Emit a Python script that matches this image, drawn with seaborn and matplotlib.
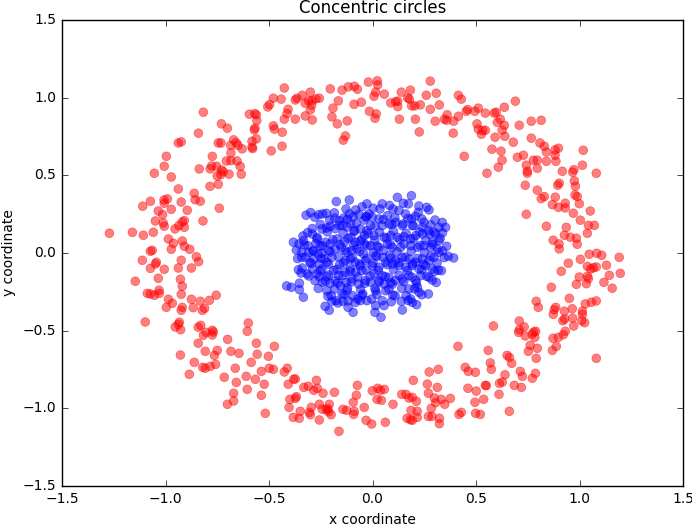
import pandas as pd
import matplotlib
matplotlib.use("Agg")
import matplotlib.pyplot as plt
import seaborn as sns

# outer ring (red)
outer_x = [
    # top left
    -0.817, -0.730, -0.701, -0.841, -0.938, -0.924, -0.745, -0.732, -0.685, -0.684,
    -0.996, -0.774, -1.006, -0.706, -0.684, -0.837, -0.784, -0.777, -0.753, -0.729,
    -0.721, -0.750, -0.733, -0.693, -1.054, -0.972, -0.785, -0.745, -0.938, -0.861,
    # top, left of centre
    -0.426, -0.479, -0.441, -0.506, -0.497, -0.373, -0.365, -0.339, -0.300, -0.325,
    -0.308, -0.292, -0.273, -0.257, -0.294, -0.300, -0.408, -0.413, -0.373, -0.426,
    -0.325, -0.291, -0.595, -0.569, -0.561, -0.559, -0.204, -0.147, -0.117, -0.088,
    -0.073, -0.165, -0.089, -0.054, -0.191, -0.196, -0.170, -0.122, -0.131, -0.141,
    -0.479, -0.474, -0.436, -0.568, -0.571, -0.561, -0.582, -0.582, -0.579, -0.437,
    -0.489, -0.671, -0.659, -0.650, -0.630, -0.655, -0.639, -0.634,
    # top, right of centre
    0.023, 0.025, -0.020, 0.015, 0.007, 0.057, 0.279, 0.139, 0.183, 0.170,
    0.178, 0.088, 0.112, 0.122, 0.122, 0.189, 0.204, 0.231, 0.260, 0.308,
    0.279, 0.323, -0.015, 0.018, 0.012, 0.130, 0.207, 0.303, 0.226, 0.415,
    0.429, 0.347, 0.361, 0.358, 0.392, 0.415, 0.453, 0.460, 0.494, 0.511,
    0.390, 0.545, 0.588, 0.598, 0.637, 0.505, 0.511, 0.526, 0.532, 0.545,
    0.603, 0.617, 0.637, 0.626, 0.639, 0.592, 0.577, 0.621, 0.626, 0.608,
    0.443, 0.553,
    # top right
    0.690, 0.709, 0.767, 0.815, 0.680, 0.767, 0.809, 0.830, 0.840, 0.882,
    0.898, 0.882, 1.018, 0.700, 0.729, 0.777, 0.796, 0.840, 0.886, 0.743,
    0.796, 0.748, 0.748, 0.917, 0.967, 0.973, 1.014, 1.081, 0.975, 0.980,
    0.895, 0.902, 0.738, 0.796,
    # right
    0.815, 0.830, 0.883, 0.931, 0.931, 0.978, 0.989, 0.999, 0.869, 0.898,
    0.743, 0.970, 1.052, 1.004, 0.840, 0.936, 1.043, 1.072, 1.038, 0.927,
    0.956, 0.985, 0.873, 0.901, 0.902, 0.989, 1.047, 1.083, 1.107, 1.192,
    1.004, 0.946, 1.038, 1.054, 1.067, 1.081, 1.130, 0.912, 0.999, 1.043,
    1.038, 1.144, 1.197, 0.985, 1.033, 1.118, 1.158, 0.864, 0.951, 0.791,
    0.801, 0.885, 0.878, 0.873, 0.927, 0.965, 1.014, 1.014, 1.028, 1.057,
    1.081,
    # left
    -0.857, -0.832, -1.110, -1.073, -1.007, -0.991, -1.006, -0.924, -0.740, -1.035,
    -1.014, -0.972, -0.895, -0.819, -1.049, -1.011, -1.006, -0.954, -0.935, -0.919,
    -0.909, -0.909, -1.271, -1.160, -1.107, -1.059, -0.986, -0.962, -0.919, -0.909,
    -0.883, -0.972, -1.073, -1.064, -0.851, -0.840, -1.112, -0.924, -1.073, -1.049,
    -1.044, -1.006, -0.938, -0.875, -1.035, -1.146, -0.928, -0.919, -1.088, -1.073,
    -1.054, -1.031, -1.030, -0.924, -0.755, -0.986, -0.967, -0.875, -0.832, -0.788,
    -0.996, -0.919, -0.924, -0.866, -0.822, -0.811,
    # bottom left
    -1.098, -0.953, -0.938, -0.933, -0.927, -0.842, -0.830, -0.817, -0.804, -0.774,
    -0.774, -0.769, -0.700, -0.842, -0.808, -0.750, -0.764, -0.684, -0.928, -0.861,
    -0.820, -0.808, -0.784, -0.758, -0.885, -0.716, -0.701,
    # bottom, left of centre
    -0.600, -0.605, -0.561, -0.474, -0.645, -0.557, -0.503, -0.663, -0.586, -0.537,
    -0.499, -0.479, -0.426, -0.412, -0.610, -0.566, -0.658, -0.523, -0.605, -0.671,
    -0.671, -0.537, -0.518, -0.381, -0.373, -0.407, -0.332, -0.310, -0.284, -0.271,
    -0.267, -0.239, -0.184, -0.399, -0.373, -0.368, -0.403, -0.349, -0.383, -0.354,
    -0.296, -0.305, -0.300, -0.257, -0.243, -0.223, -0.216, -0.212, -0.209, -0.200,
    -0.257, -0.162, -0.143, -0.125, -0.093, -0.088, -0.091, -0.078, -0.073, -0.040,
    -0.031,
    # bottom, right of centre
    0.584, 0.413, 0.559, 0.569, 0.574, 0.448, 0.463, 0.497, 0.274, 0.318,
    0.197, 0.265, 0.313, 0.461, 0.501, 0.545, 0.550, 0.613, 0.627, 0.611,
    0.640, 0.537, 0.495, -0.001, 0.025, 0.038, 0.057, 0.022, 0.043, 0.099,
    0.141, 0.162, 0.176, 0.192, 0.212, 0.270, 0.299, 0.305, 0.332, 0.349,
    0.376, 0.284, 0.186, 0.216, 0.216, 0.167, 0.183, 0.192, 0.270, 0.287,
    0.323, 0.323, 0.418, 0.429, 0.498, 0.521, -0.004, 0.062,
    # bottom right
    0.709, 0.733, 0.706, 0.709, 0.738, 0.771, 0.779, 0.788, 0.784, 0.762,
    0.753, 0.796, 0.791, 0.872, 0.898, 0.922, 0.931, 0.888, 0.869, 0.972,
    0.919, 0.928, 0.967, 1.011, 1.025, 1.081, 0.650, 0.661, 0.672, 0.714,
    0.724, 0.787, 0.772, 0.685, 0.719, 0.661,
]
outer_y = [
    # top left
    0.906, 0.831, 0.803, 0.771, 0.708, 0.715, 0.708, 0.708, 0.693, 0.644,
    0.622, 0.622, 0.558, 0.592, 0.594, 0.541, 0.541, 0.560, 0.558, 0.534,
    0.523, 0.496, 0.504, 0.507, 0.513, 0.489, 0.429, 0.442, 0.412, 0.384,
    # top, left of centre
    1.062, 0.996, 0.990, 0.940, 0.955, 0.985, 0.996, 1.015, 1.035, 0.964,
    0.979, 0.981, 0.992, 0.996, 0.951, 0.921, 0.925, 0.897, 0.861, 0.861,
    0.882, 0.856, 0.893, 0.897, 0.889, 0.852, 1.056, 1.048, 1.069, 1.073,
    1.054, 0.979, 0.957, 0.970, 0.932, 0.876, 0.831, 0.850, 0.753, 0.726,
    0.818, 0.797, 0.777, 0.803, 0.792, 0.734, 0.719, 0.681, 0.672, 0.687,
    0.657, 0.728, 0.710, 0.693, 0.670, 0.592, 0.558, 0.507,
    # top, right of centre
    1.108, 1.082, 1.100, 1.035, 1.009, 1.022, 1.106, 1.035, 1.048, 0.998,
    0.990, 0.966, 0.974, 0.977, 0.942, 0.947, 0.947, 0.953, 1.015, 1.028,
    0.925, 0.953, 0.912, 0.895, 0.867, 0.861, 0.861, 0.848, 0.779, 1.015,
    0.990, 0.861, 0.889, 0.854, 0.848, 0.880, 0.912, 0.923, 0.912, 0.932,
    0.771, 0.900, 0.900, 0.906, 0.938, 0.831, 0.797, 0.764, 0.788, 0.790,
    0.841, 0.861, 0.822, 0.790, 0.751, 0.745, 0.668, 0.655, 0.597, 0.552,
    0.622, 0.513,
    # top right
    0.977, 0.822, 0.848, 0.854, 0.713, 0.739, 0.708, 0.687, 0.650, 0.663,
    0.674, 0.629, 0.661, 0.616, 0.629, 0.597, 0.597, 0.590, 0.590, 0.565,
    0.545, 0.526, 0.513, 0.526, 0.520, 0.536, 0.565, 0.513, 0.464, 0.429,
    0.436, 0.449, 0.436, 0.404,
    # right
    0.350, 0.363, 0.359, 0.320, 0.290, 0.373, 0.363, 0.317, 0.311, 0.294,
    0.249, 0.256, 0.270, 0.211, 0.172, 0.165, 0.178, 0.178, 0.127, 0.114,
    0.101, 0.095, 0.082, 0.058, 0.026, 0.056, -0.008, -0.002, -0.015, -0.028,
    -0.041, -0.066, -0.086, -0.103, -0.095, -0.090, -0.079, -0.118, -0.155, -0.165,
    -0.150, -0.144, -0.131, -0.202, -0.198, -0.189, -0.227, -0.221, -0.292, -0.311,
    -0.350, -0.350, -0.365, -0.395, -0.375, -0.359, -0.375, -0.395, -0.328, -0.317,
    -0.309,
    # left
    0.343, 0.333, 0.301, 0.333, 0.341, 0.348, 0.320, 0.328, 0.288, 0.270,
    0.247, 0.281, 0.275, 0.206, 0.206, 0.193, 0.172, 0.155, 0.176, 0.200,
    0.208, 0.165, 0.127, 0.133, 0.114, 0.133, 0.090, 0.062, 0.077, 0.043,
    0.024, 0.024, 0.011, 0.017, -0.024, -0.056, -0.047, -0.047, -0.099, -0.071,
    -0.060, -0.105, -0.097, -0.097, -0.163, -0.182, -0.169, -0.214, -0.260, -0.264,
    -0.272, -0.240, -0.260, -0.266, -0.272, -0.298, -0.324, -0.298, -0.311, -0.305,
    -0.350, -0.350, -0.369, -0.352, -0.369, -0.356,
    # bottom left
    -0.444, -0.476, -0.459, -0.446, -0.494, -0.478, -0.466, -0.530, -0.511, -0.498,
    -0.528, -0.509, -0.556, -0.581, -0.633, -0.627, -0.659, -0.633, -0.657, -0.704,
    -0.736, -0.742, -0.730, -0.717, -0.781, -0.800, -0.974,
    # bottom, left of centre
    -0.451, -0.504, -0.581, -0.601, -0.646, -0.652, -0.665, -0.742, -0.704, -0.762,
    -0.742, -0.749, -0.766, -0.742, -0.794, -0.813, -0.833, -0.845, -0.878, -0.903,
    -0.953, -0.916, -1.032, -0.813, -0.811, -0.845, -0.865, -0.858, -0.884, -0.820,
    -0.871, -0.903, -0.897, -0.942, -0.936, -0.925, -0.994, -1.019, -1.058, -1.064,
    -0.994, -1.026, -1.041, -0.974, -1.005, -1.009, -1.003, -1.022, -0.974, -1.041,
    -1.075, -1.148, -1.006, -1.013, -0.961, -1.019, -1.039, -0.916, -0.852, -0.994,
    -1.077,
    # bottom, right of centre
    -0.470, -0.601, -0.627, -0.708, -0.749, -0.736, -0.762, -0.768, -0.766, -0.749,
    -0.820, -0.844, -0.865, -0.871, -0.889, -0.852, -0.854, -0.839, -0.831, -0.910,
    -0.784, -0.942, -0.961, -0.887, -0.871, -0.884, -0.878, -0.942, -0.948, -0.974,
    -0.910, -0.910, -0.934, -0.929, -0.955, -0.903, -0.934, -0.964, -0.942, -0.974,
    -0.936, -1.000, -1.013, -1.019, -1.058, -1.064, -1.073, -1.077, -1.052, -1.052,
    -1.064, -1.099, -1.039, -1.026, -1.032, -1.039, -1.101, -1.090,
    # bottom right
    -0.438, -0.476, -0.511, -0.494, -0.534, -0.522, -0.509, -0.504, -0.543, -0.594,
    -0.633, -0.614, -0.678, -0.549, -0.543, -0.526, -0.504, -0.601, -0.627, -0.470,
    -0.436, -0.425, -0.419, -0.436, -0.449, -0.678, -0.659, -0.672, -0.710, -0.762,
    -0.794, -0.775, -0.807, -0.852, -0.865, -1.019,
]

# inner blob (blue), the points that can be told apart
inner_x = [
    # left half
    -0.175, -0.112, -0.027, -0.321, -0.299, -0.279, -0.260, -0.241, -0.223, -0.207,
    -0.184, -0.160, -0.139, -0.128, -0.112, -0.093, -0.081, -0.067, -0.041, -0.030,
    -0.291, -0.291, -0.267, -0.244, -0.221, -0.204, -0.180, -0.147, -0.123, -0.105,
    -0.086, -0.059, -0.039, -0.027, -0.382, -0.355, -0.336, -0.333, -0.312, -0.273,
    -0.252, -0.228, -0.204, -0.171, -0.134, -0.104, -0.083, -0.060, -0.027, -0.368,
    -0.342, -0.307, -0.286, -0.263, -0.244, -0.212, -0.180, -0.151, -0.123, -0.102,
    -0.075, -0.043, -0.362, -0.324, -0.302, -0.283, -0.257, -0.234, -0.220, -0.196,
    -0.159, -0.131, -0.107, -0.083, -0.059, -0.035, -0.339, -0.345, -0.315, -0.289,
    -0.268, -0.244, -0.212, -0.188, -0.163, -0.131, -0.107, -0.081, -0.051, -0.415,
    -0.392, -0.353, -0.353, -0.334, -0.278, -0.257, -0.228, -0.204, -0.180, -0.155,
    -0.128, -0.099, -0.067, -0.035, -0.220, -0.199, -0.176, -0.147, -0.123, -0.096,
    -0.072, -0.047, -0.027, -0.215, -0.196, -0.167, -0.143, -0.118, -0.094, -0.229,
    -0.209, -0.083, -0.059,
    # right half
    0.120, 0.149, 0.173, 0.188, 0.047, 0.036, -0.017, -0.001, 0.031, 0.072,
    0.099, 0.128, 0.160, 0.189, 0.221, 0.262, 0.273, 0.238, 0.249, -0.009,
    0.047, 0.080, 0.112, 0.144, 0.192, 0.241, 0.270, 0.297, 0.321, 0.337,
    0.353, 0.007, 0.056, 0.088, 0.120, 0.152, 0.184, 0.209, 0.241, 0.305,
    0.321, 0.289, -0.009, 0.031, 0.072, 0.096, 0.136, 0.184, 0.217, 0.249,
    0.281, 0.313, 0.321, 0.015, 0.051, 0.083, 0.112, 0.144, 0.176, 0.209,
    0.241, 0.273, 0.297, 0.366, 0.392, -0.001, 0.031, 0.064, 0.096, 0.128,
    0.160, 0.192, 0.225, 0.257, 0.289, 0.300, 0.333, 0.007, 0.047, 0.080,
    0.112, 0.144, 0.176, 0.209, 0.233, 0.273, 0.289, 0.031, -0.009, 0.056,
    0.096, 0.176, 0.217, 0.225, 0.270, 0.015, 0.064, -0.004, 0.047, 0.056,
    0.015, 0.109, 0.139, 0.184, 0.192, 0.213, 0.144, 0.012, 0.041,
]
inner_y = [
    # left half
    0.331, 0.341, 0.316, 0.243, 0.260, 0.230, 0.247, 0.251, 0.255, 0.212,
    0.258, 0.208, 0.225, 0.283, 0.251, 0.234, 0.277, 0.247, 0.212, 0.236,
    0.157, 0.122, 0.101, 0.155, 0.161, 0.172, 0.157, 0.176, 0.167, 0.187,
    0.144, 0.155, 0.112, 0.144, 0.069, 0.058, 0.109, 0.079, 0.047, 0.062,
    0.047, 0.069, 0.058, 0.090, 0.073, 0.101, 0.069, 0.075, 0.047, 0.019,
    0.004, 0.004, 0.015, -0.006, -0.002, 0.015, 0.026, 0.036, 0.004, 0.015,
    0.026, -0.006, -0.036, -0.028, -0.060, -0.039, -0.071, -0.039, -0.060, -0.028,
    -0.075, -0.049, -0.039, -0.060, -0.082, -0.049, -0.097, -0.129, -0.135, -0.103,
    -0.135, -0.103, -0.142, -0.114, -0.146, -0.124, -0.103, -0.124, -0.114, -0.212,
    -0.221, -0.195, -0.236, -0.285, -0.178, -0.152, -0.182, -0.195, -0.178, -0.210,
    -0.189, -0.167, -0.200, -0.178, -0.243, -0.275, -0.307, -0.264, -0.243, -0.275,
    -0.296, -0.264, -0.307, -0.279, -0.311, -0.322, -0.311, -0.350, -0.382, -0.343,
    -0.369, -0.318, -0.307,
    # right half
    0.358, 0.320, 0.316, 0.369, 0.316, 0.283, 0.251, 0.230, 0.219, 0.240,
    0.283, 0.273, 0.251, 0.219, 0.262, 0.294, 0.277, 0.219, 0.197, 0.176,
    0.176, 0.187, 0.197, 0.176, 0.176, 0.165, 0.144, 0.133, 0.165, 0.197,
    0.165, 0.112, 0.101, 0.112, 0.101, 0.105, 0.090, 0.112, 0.122, 0.122,
    0.079, 0.069, 0.047, 0.036, 0.058, 0.036, 0.036, 0.047, 0.036, 0.047,
    0.036, 0.026, 0.004, -0.017, -0.028, -0.017, -0.049, -0.028, -0.039, -0.060,
    -0.039, -0.049, -0.028, -0.021, -0.032, -0.082, -0.092, -0.060, -0.071, -0.082,
    -0.092, -0.082, -0.103, -0.082, -0.103, -0.118, -0.114, -0.135, -0.146, -0.157,
    -0.178, -0.167, -0.146, -0.178, -0.146, -0.157, -0.174, -0.178, -0.189, -0.200,
    -0.200, -0.232, -0.221, -0.253, -0.264, -0.243, -0.243, -0.296, -0.307, -0.339,
    -0.339, -0.275, -0.311, -0.296, -0.318, -0.333, -0.367, -0.382, -0.414,
]

# inner blob, estimated extra points in the crowded core (one row per line)
core_x = [
    -0.050, 0.003, 0.082, 0.224,
    -0.183, -0.121, -0.031, 0.052, 0.108, 0.171, 0.207, 0.302,
    -0.252, -0.161, -0.078, 0.012, 0.093, 0.148, 0.198, 0.281,
    -0.313, -0.218, -0.142, -0.089, -0.021, 0.034, 0.101, 0.162, 0.228, 0.276, 0.338,
    -0.268, -0.192, -0.118, -0.052, 0.011, 0.068, 0.131, 0.197, 0.258, 0.327,
    -0.329, -0.241, -0.158, -0.091, -0.038, 0.022, 0.087, 0.152, 0.229, 0.292, 0.358,
    -0.287, -0.203, -0.131, -0.062, 0.004, 0.052, 0.118, 0.187, 0.251, 0.338,
    -0.342, -0.248, -0.163, -0.098, -0.027, 0.021, 0.089, 0.158, 0.218, 0.281, 0.347,
    -0.297, -0.212, -0.139, -0.063, 0.002, 0.071, 0.128, 0.193, 0.248, 0.312,
    -0.358, -0.251, -0.172, -0.108, -0.031, 0.028, 0.101, 0.168, 0.238, 0.318,
    -0.308, -0.221, -0.143, -0.072, -0.012, 0.061, 0.129, 0.191, 0.262,
    -0.241, -0.168, -0.102, -0.038, 0.031, 0.088, 0.151, 0.212, 0.308,
    -0.262, -0.183, -0.121, -0.058, 0.012, 0.079, 0.141, 0.203,
    -0.138, -0.051, 0.021, 0.098, 0.162, 0.238,
    -0.118, 0.091, 0.172,
]
core_y = [
    0.297, 0.288, 0.306, 0.302,
    0.224, 0.218, 0.231, 0.215, 0.226, 0.221, 0.236, 0.212,
    0.184, 0.178, 0.190, 0.172, 0.183, 0.187, 0.176, 0.181,
    0.131, 0.136, 0.128, 0.139, 0.125, 0.133, 0.141, 0.127, 0.135, 0.122, 0.130,
    0.091, 0.085, 0.094, 0.088, 0.082, 0.096, 0.087, 0.092, 0.083, 0.094,
    0.052, 0.046, 0.055, 0.049, 0.057, 0.044, 0.053, 0.058, 0.048, 0.055, 0.043,
    0.012, 0.006, 0.015, 0.009, 0.003, 0.016, 0.008, 0.011, 0.002, 0.014,
    -0.028, -0.034, -0.025, -0.031, -0.036, -0.024, -0.033, -0.027, -0.035, -0.022, -0.030,
    -0.068, -0.073, -0.064, -0.071, -0.066, -0.075, -0.062, -0.069, -0.074, -0.065,
    -0.108, -0.113, -0.105, -0.116, -0.109, -0.112, -0.104, -0.114, -0.107, -0.111,
    -0.148, -0.153, -0.146, -0.155, -0.149, -0.152, -0.144, -0.156, -0.150,
    -0.189, -0.193, -0.186, -0.195, -0.188, -0.192, -0.185, -0.196, -0.190,
    -0.228, -0.232, -0.226, -0.235, -0.229, -0.233, -0.227, -0.231,
    -0.268, -0.274, -0.266, -0.271, -0.275, -0.269,
    -0.309, -0.314, -0.306,
]

ticks = [-1.5, -1.0, -0.5, 0.0, 0.5, 1.0, 1.5]

assert len(outer_x) == len(outer_y)
assert len(inner_x) == len(inner_y)
assert len(core_x) == len(core_y)

blue_x = inner_x + core_x
blue_y = inner_y + core_y

df = pd.DataFrame({
    'x': outer_x + blue_x,
    'y': outer_y + blue_y,
    'ring': ['outer'] * len(outer_x) + ['inner'] * len(blue_x),
})

plt.style.use('classic')
plt.rcParams['font.family'] = ['DejaVu Sans']
fig, ax = plt.subplots(figsize=(6.92, 5.24), dpi=100, facecolor='white')
fig.subplots_adjust(left=0.0896, right=0.987, top=0.962, bottom=0.0725)

sns.scatterplot(data=df, x='x', y='y', hue='ring',
                palette={'outer': 'red', 'inner': 'blue'},
                alpha=0.5, s=40, linewidth=0.5, edgecolor='face',
                legend=False, ax=ax)

ax.set_xlim(-1.5, 1.5)
ax.set_ylim(-1.5, 1.5)
ax.set_xticks(ticks)
ax.set_yticks(ticks)
ax.tick_params(labelsize=10, direction='in', top=True, right=True)
ax.set_xlabel('x coordinate', fontsize=10)
ax.set_ylabel('y coordinate', fontsize=10)
ax.set_title('Concentric circles', fontsize=12)

fig.savefig('out.png', dpi=100, facecolor='white')
